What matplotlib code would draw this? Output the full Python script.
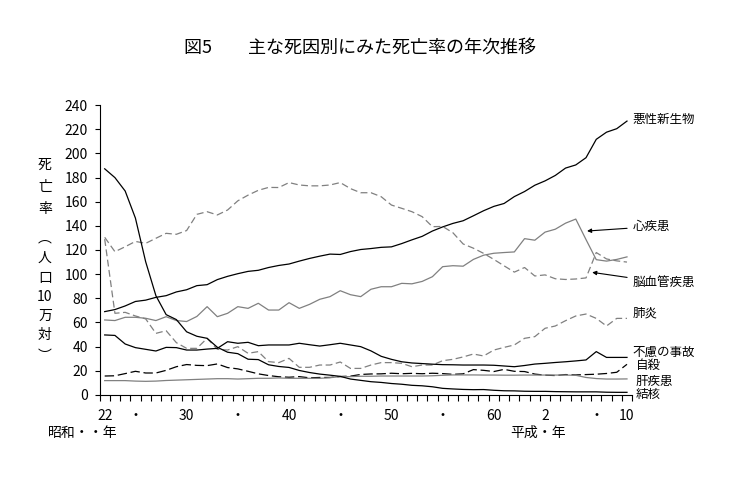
import matplotlib
matplotlib.use("Agg")
import matplotlib.pyplot as plt

plt.rcParams['font.family'] = ['Noto Sans CJK JP', 'DejaVu Sans']

# 昭和22年(1947) ~ 平成10年(1998)
years = list(range(1947, 1999))

cancer = [69.0, 70.7, 73.7, 77.4, 78.5, 80.8, 82.2, 85.3, 87.1, 90.5,
          91.3, 95.5, 98.2, 100.4, 102.3, 103.2, 105.5, 107.2, 108.4, 110.8,
          113.0, 114.9, 116.6, 116.3, 118.7, 120.4, 121.2, 122.2, 122.6, 125.3,
          128.4, 131.3, 135.7, 139.1, 142.0, 144.2, 148.3, 152.5, 156.1, 158.5,
          164.2, 168.4, 173.6, 177.2, 181.7, 187.8, 190.4, 196.4, 211.6, 217.5,
          220.4, 226.7]
heart = [62.1, 61.6, 64.3, 64.3, 63.5, 61.6, 64.8, 61.6, 60.8, 65.0,
         73.1, 64.8, 67.6, 73.1, 71.7, 75.9, 70.3, 70.3, 76.4, 71.7,
         75.0, 79.2, 81.4, 86.3, 83.0, 81.4, 87.5, 89.6, 89.6, 92.4,
         92.0, 94.0, 97.9, 106.2, 107.0, 106.6, 112.2, 115.7, 117.3, 117.9,
         118.4, 129.4, 128.1, 134.8, 137.2, 142.2, 145.6, 128.6, 112.0, 110.8,
         112.2, 114.3]
cerebro = [130.5, 118.6, 122.7, 127.1, 125.5, 129.7, 133.8, 133.0, 136.1, 149.5,
           151.7, 149.0, 153.1, 160.7, 165.4, 169.4, 171.8, 171.7, 175.8, 173.8,
           173.1, 173.1, 173.8, 175.8, 170.8, 167.4, 167.4, 164.1, 157.2, 154.5,
           151.7, 147.6, 139.3, 139.5, 134.3, 125.0, 121.5, 117.2, 112.2, 106.9,
           101.7, 105.5, 98.5, 99.4, 96.2, 95.6, 96.0, 96.9, 117.9, 112.6,
           111.0, 110.0]
pneumonia = [129.0, 67.6, 68.4, 65.4, 63.0, 51.0, 53.2, 43.3, 38.6, 38.6,
             46.9, 37.8, 37.2, 40.0, 34.5, 35.9, 27.6, 26.8, 30.3, 22.9,
             22.9, 24.8, 24.8, 27.3, 22.0, 22.0, 24.8, 26.8, 26.8, 26.2,
             23.4, 24.8, 24.8, 28.4, 29.5, 31.5, 33.9, 32.3, 37.2, 39.4,
             41.4, 46.9, 48.3, 55.2, 57.1, 61.5, 65.4, 67.0, 63.4, 57.1,
             63.4, 63.4]
accident = [49.7, 49.3, 42.2, 39.2, 37.8, 36.4, 39.4, 39.2, 37.2, 37.2,
            38.0, 38.6, 44.1, 42.8, 43.6, 40.8, 41.4, 41.4, 41.4, 42.8,
            41.6, 40.5, 41.6, 42.8, 41.4, 40.0, 36.5, 32.0, 29.5, 27.5,
            26.5, 26.0, 25.5, 25.1, 25.0, 24.8, 24.8, 24.8, 24.6, 24.0,
            23.4, 24.4, 25.6, 26.2, 26.9, 27.5, 28.2, 29.0, 35.9, 31.1,
            31.1, 31.1]
suicide = [15.7, 15.9, 17.7, 19.6, 18.2, 18.2, 20.4, 23.4, 25.2, 24.5,
           24.3, 25.7, 22.7, 21.6, 19.6, 17.5, 16.1, 15.1, 14.7, 15.2,
           14.2, 14.5, 14.5, 15.3, 15.6, 17.0, 17.4, 17.5, 18.0, 17.6,
           17.9, 17.6, 18.0, 17.7, 17.1, 17.5, 21.0, 20.4, 19.4, 21.2,
           19.6, 19.4, 17.3, 16.4, 16.1, 16.9, 16.6, 16.9, 17.2, 17.8,
           18.8, 25.4]
liver = [11.9, 11.9, 11.9, 11.5, 11.3, 11.5, 12.0, 12.3, 12.6, 12.9,
         13.2, 13.5, 13.5, 13.2, 13.5, 13.8, 13.8, 14.1, 13.8, 13.8,
         13.8, 13.8, 14.3, 15.2, 15.2, 15.5, 15.5, 15.7, 15.7, 15.7,
         15.7, 15.7, 15.9, 16.3, 16.6, 16.6, 16.6, 16.5, 16.5, 16.4,
         16.4, 16.5, 16.5, 16.5, 16.5, 16.5, 16.3, 14.5, 13.6, 13.2,
         13.2, 13.3]
tb = [187.2, 179.9, 168.8, 146.4, 110.3, 82.2, 66.5, 62.4, 52.3, 48.6,
      46.9, 39.5, 35.4, 34.2, 29.6, 29.3, 25.0, 23.6, 22.8, 20.3,
      18.6, 17.3, 16.4, 15.4, 13.2, 12.1, 11.0, 10.4, 9.5, 8.9,
      8.0, 7.6, 6.8, 5.5, 5.0, 4.6, 4.4, 4.5, 3.9, 3.5,
      3.4, 3.1, 3.0, 3.0, 2.8, 2.7, 2.6, 2.6, 2.6, 2.3,
      2.2, 2.2]

tick_years = [1947, 1950, 1955, 1960, 1965, 1970, 1975, 1980, 1985, 1990, 1995, 1998]
tick_labels = ["22", "・", "30", "・", "40", "・", "50", "・", "60", "2", "・", "10"]

gray = "#808080"
lw = 0.9

fig = plt.figure(figsize=(7.3, 4.9), dpi=100)
ax = fig.add_axes([0.1364, 0.1939, 0.7295, 0.5918])

ax.plot(years, cancer, color="black", lw=lw)
ax.plot(years, heart, color=gray, lw=lw)
ax.plot(years, cerebro, color=gray, lw=lw, dashes=(5.5, 2.8))
ax.plot(years, pneumonia, color=gray, lw=lw, dashes=(5.5, 2.8))
ax.plot(years, accident, color="black", lw=lw)
ax.plot(years, suicide, color="black", lw=lw, dashes=(7.5, 3.0))
ax.plot(years, liver, color=gray, lw=lw)
ax.plot(years, tb, color="black", lw=lw)

ax.set_xlim(1946.5, 1998.5)
ax.set_ylim(0, 240)
ax.set_yticks(range(0, 241, 20))
ax.set_xticks(tick_years)
ax.set_xticklabels(tick_labels)
ax.set_xticks([y - 0.5 for y in years] + [1998.5], minor=True)
ax.tick_params(axis="x", which="major", length=0, pad=10, labelsize=10)
ax.tick_params(axis="x", which="minor", length=4, direction="out", width=0.8)
ax.tick_params(axis="y", length=3.5, direction="out", width=0.8, pad=5, labelsize=10)
for s in ["top", "right"]:
    ax.spines[s].set_visible(False)
for s in ["left", "bottom"]:
    ax.spines[s].set_linewidth(0.8)

# series labels on the right
lx = 1998.55
ax.text(lx, 228.4, "悪性新生物", fontsize=9, va="center", ha="left", clip_on=False)
ax.annotate("心疾患", xy=(1994.1, 135.7), xytext=(lx, 139.3), fontsize=9,
            va="center", ha="left", annotation_clip=False,
            arrowprops=dict(arrowstyle="-|>", color="black", lw=0.8,
                            mutation_scale=6, shrinkA=2, shrinkB=0))
ax.annotate("脳血管疾患", xy=(1994.6, 101.5), xytext=(lx, 92.9), fontsize=9,
            va="center", ha="left", annotation_clip=False,
            arrowprops=dict(arrowstyle="-|>", color="black", lw=0.8,
                            mutation_scale=6, shrinkA=2, shrinkB=0))
ax.text(lx, 67.6, "肺炎", fontsize=9, va="center", ha="left", clip_on=False)
ax.text(lx, 35.3, "不慮の事故", fontsize=9, va="center", ha="left", clip_on=False)
ax.text(lx + 0.3, 24.2, "自殺", fontsize=9, va="center", ha="left", clip_on=False)
ax.text(lx + 0.3, 11.0, "肝疾患", fontsize=9, va="center", ha="left", clip_on=False)
ax.text(lx + 0.3, 0.8, "結核", fontsize=9, va="center", ha="left", clip_on=False)

# title
fig.text(360 / 730, 1 - 48 / 490, "図5\u3000\u3000主な死因別にみた死亡率の年次推移",
         fontsize=13, ha="center", va="center")

# vertical y label
ylab = ["死", "亡", "率", "︵", "人", "口", "10", "万", "対", "︶"]
ypos = [165, 187, 209, 238, 258, 278, 297, 316, 335, 356]
for ch, yp in zip(ylab, ypos):
    fig.text(45 / 730, 1 - yp / 490, ch, fontsize=10, ha="center", va="center")

# era labels
fig.text(83 / 730, 1 - 433 / 490, "昭和・・年", fontsize=10, ha="center", va="center")
fig.text(538 / 730, 1 - 433 / 490, "平成・年", fontsize=10, ha="center", va="center")

fig.savefig("out.png", dpi=100)
